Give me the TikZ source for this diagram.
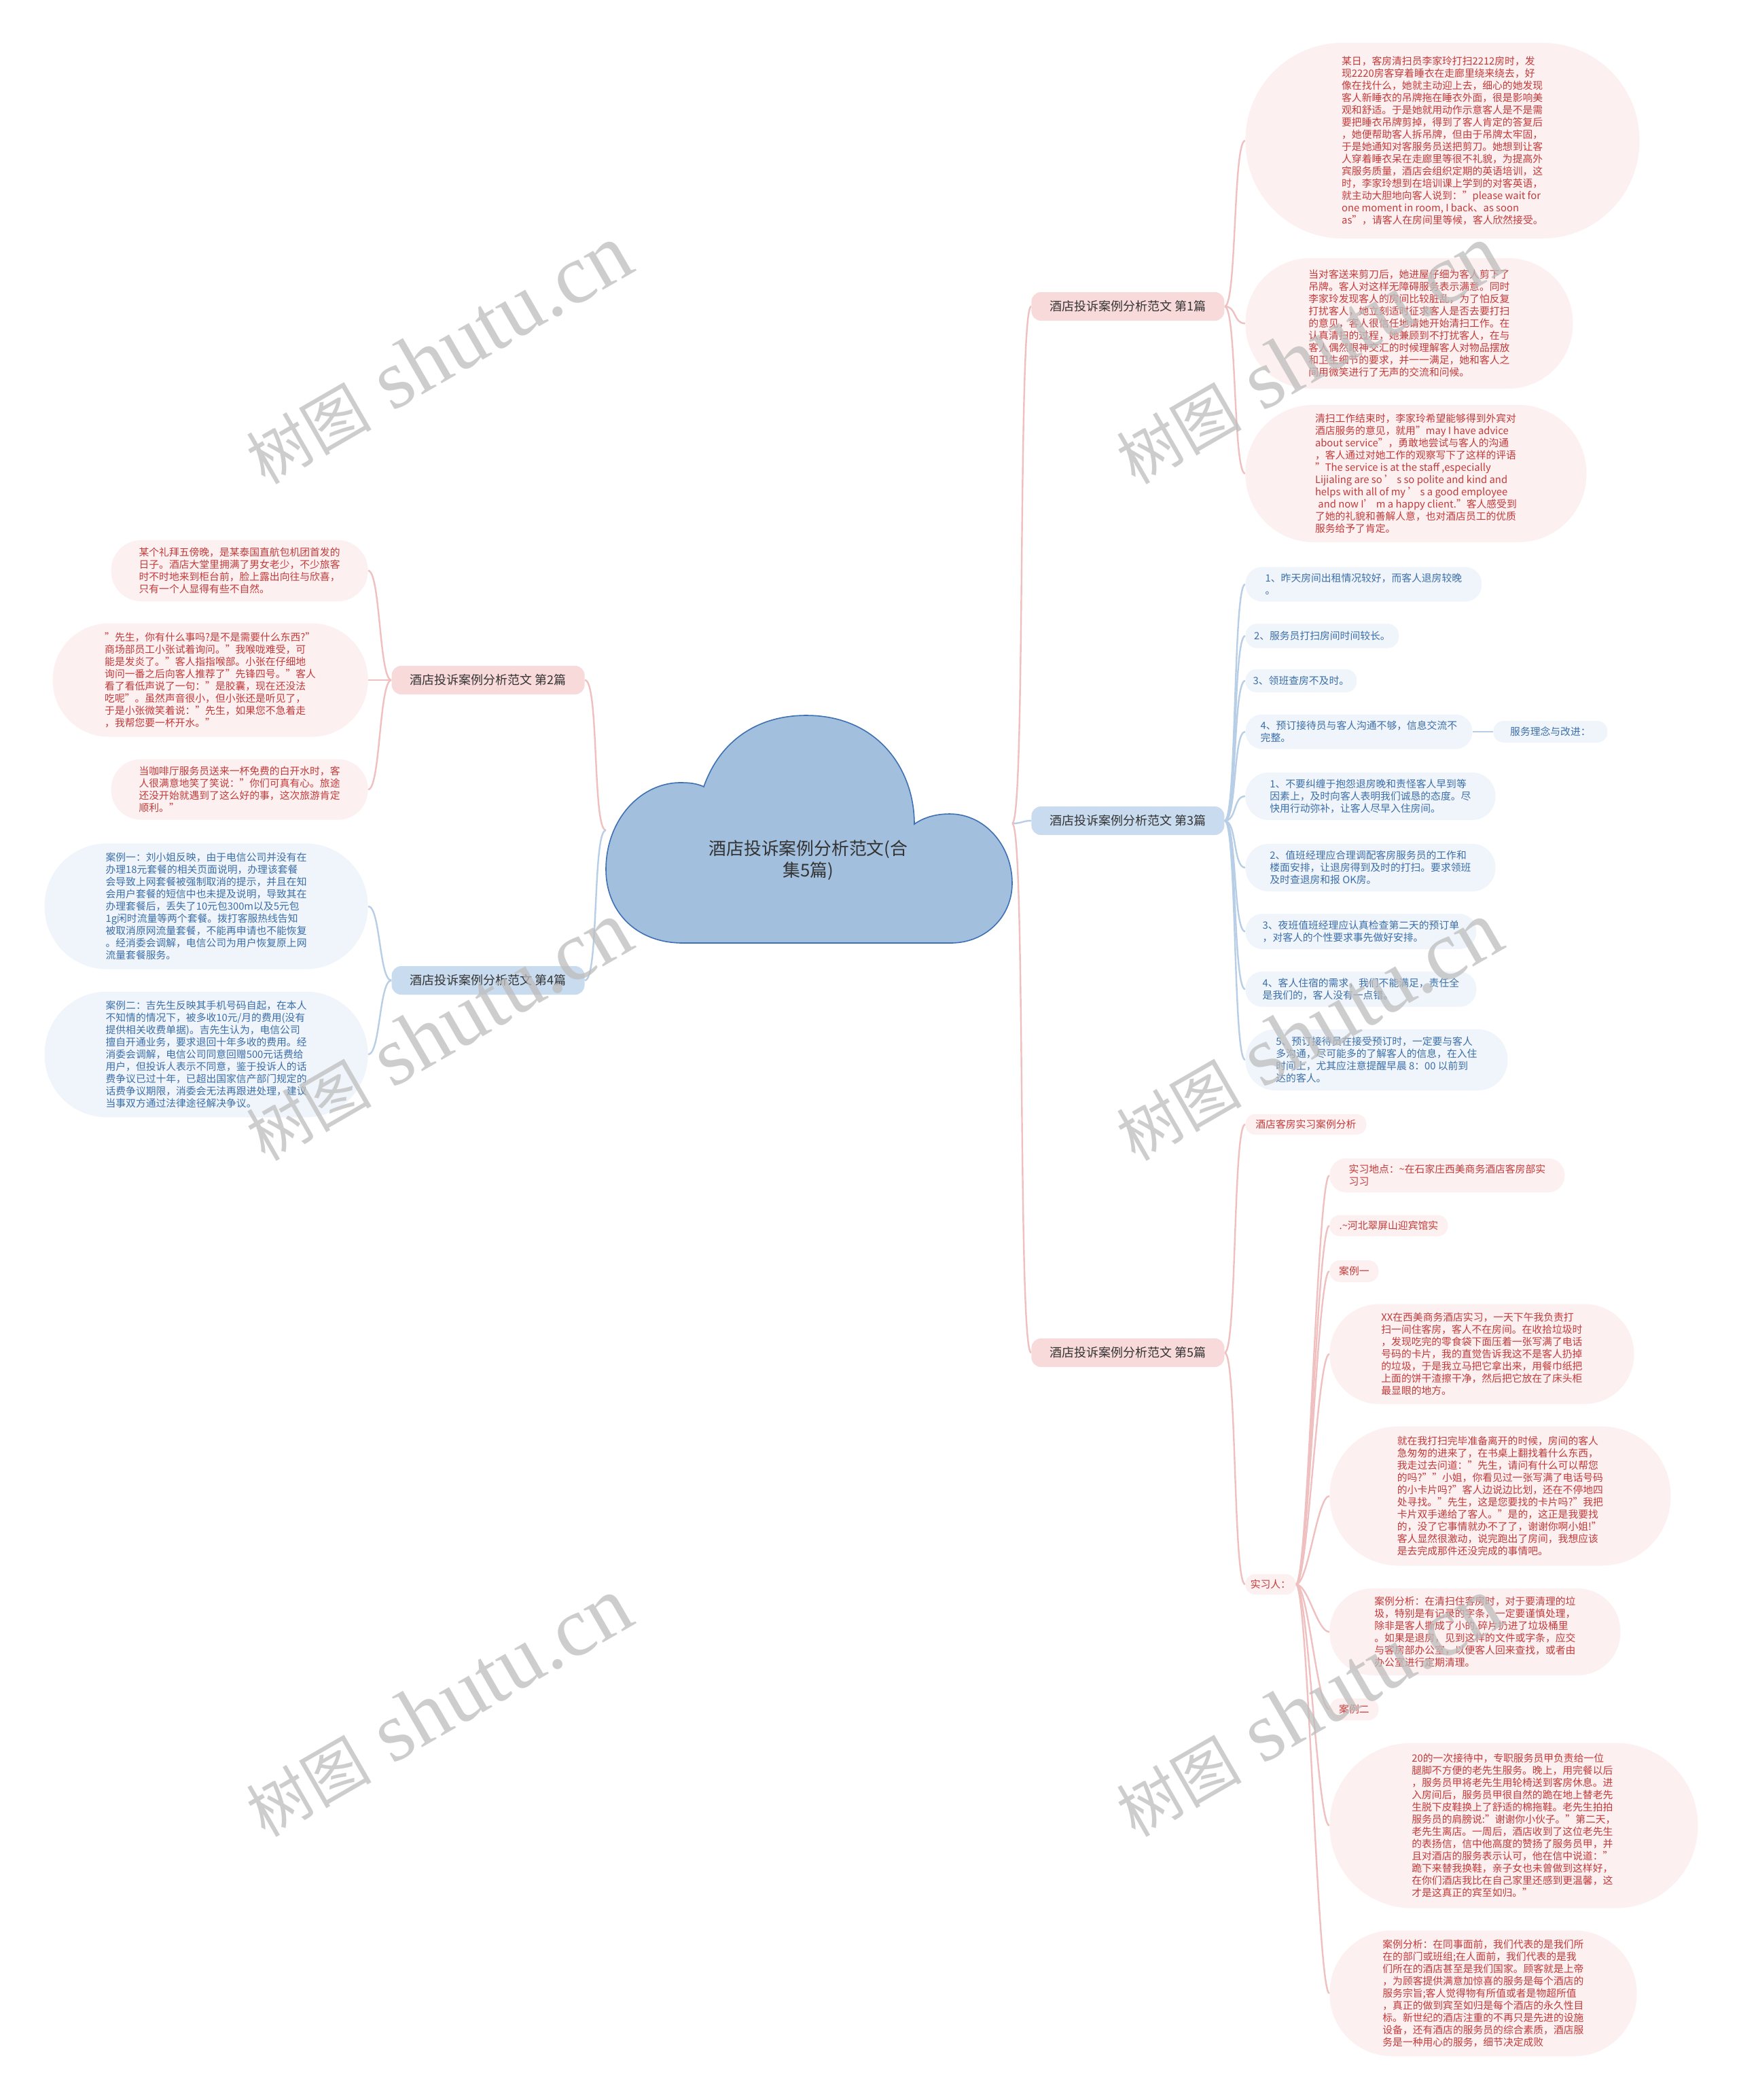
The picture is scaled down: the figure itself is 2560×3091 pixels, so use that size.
\documentclass[tikz,border=0pt]{standalone}
\usepackage{fontspec}
\setmainfont{Noto Sans CJK SC}
\newfontfamily\wmserif{Liberation Serif}
\usetikzlibrary{backgrounds}
\definecolor{pinkfill}{HTML}{FDF0F0}
\definecolor{pinktext}{HTML}{C23A3A}
\definecolor{bluefill}{HTML}{F0F5FB}
\definecolor{bluetext}{HTML}{3B6EA8}
\definecolor{pinkbr}{HTML}{F9DADA}
\definecolor{bluebr}{HTML}{C9DBEE}
\definecolor{pinkln}{HTML}{F0BFBF}
\definecolor{blueln}{HTML}{B7CEE6}
\definecolor{cloudfill}{HTML}{A2BFDD}
\definecolor{cloudline}{HTML}{3E70B4}
\definecolor{darktxt}{HTML}{333333}
\definecolor{wmgray}{HTML}{BDBDBD}
\newcommand\leaffont{\fontsize{7.4pt}{9pt}\selectfont}
\newcommand\brfont{\fontsize{9pt}{11pt}\selectfont}
\newcommand\ttlfont{\fontsize{12.9pt}{16pt}\selectfont}
\tikzset{
  leaf/.style={rectangle, align=left, font=\leaffont, inner sep=0pt},
  pill/.style 2 args={minimum width=#1pt, minimum height=#2pt, rounded corners=0.5*#2pt-0.4pt},
  pinkleaf/.style={leaf, fill=pinkfill, text=pinktext},
  blueleaf/.style={leaf, fill=bluefill, text=bluetext},
  branch/.style={rounded corners=7pt, font=\brfont, text=darktxt, minimum height=21pt, minimum width=142pt, inner sep=0pt},
  pinkbranch/.style={branch, fill=pinkbr},
  bluebranch/.style={branch, fill=bluebr},
  pinkconn/.style={draw=pinkln, line width=1.2pt},
  blueconn/.style={draw=blueln, line width=1.2pt},
  rcurve/.style={out=0,in=180,out distance=9pt,in distance=9pt},
  lcurve/.style={out=180,in=0,out distance=9pt,in distance=9pt},
  wmark/.style={rotate=30, text=wmgray, text opacity=0.75, inner sep=0pt},
}
\begin{document}
\begin{tikzpicture}[x=0.5pt,y=-0.5pt]
\path[use as bounding box] (0,0) rectangle (2560,3091);

% cloud
\draw[fill=cloudfill, draw=cloudline, line width=0.8pt]
  (1005,1388) .. controls (935,1388) and (892,1340) .. (892,1280)
  .. controls (892,1205) and (945,1150) .. (1005,1152)
  .. controls (1020,1152) and (1030,1155) .. (1036,1158)
  .. controls (1060,1090) and (1115,1053) .. (1187,1053)
  .. controls (1290,1053) and (1346,1130) .. (1346,1213)
  .. controls (1360,1203) and (1378,1198) .. (1398,1198)
  .. controls (1450,1198) and (1490,1245) .. (1490,1300)
  .. controls (1490,1350) and (1450,1388) .. (1400,1388)
  -- cycle;
\node[font=\ttlfont, align=center, text=darktxt] (title) at (1190,1266) {酒店投诉案例分析范文(合\\集5篇)};
\coordinate (cr) at (1490,1212);
\coordinate (cl) at (892,1222);

% branches
\node[pinkbranch, anchor=west] (b1) at (1518,451) {酒店投诉案例分析范文 第1篇};
\node[bluebranch, anchor=west] (b3) at (1518,1208) {酒店投诉案例分析范文 第3篇};
\node[pinkbranch, anchor=west] (b5) at (1518,1991) {酒店投诉案例分析范文 第5篇};
\node[pinkbranch, anchor=east] (b2) at (861,1001) {酒店投诉案例分析范文 第2篇};
\node[bluebranch, anchor=east] (b4) at (861,1443) {酒店投诉案例分析范文 第4篇};

% branch 1 leaves
\node[pinkleaf, anchor=west, pill={290}{144}] (l1a) at (1833,207) {某日，客房清扫员李家玲打扫2212房时，发\\
现2220房客穿着睡衣在走廊里绕来绕去，好\\
像在找什么，她就主动迎上去，细心的她发现\\
客人新睡衣的吊牌拖在睡衣外面，很是影响美\\
观和舒适。于是她就用动作示意客人是不是需\\
要把睡衣吊牌剪掉，得到了客人肯定的答复后\\
，她便帮助客人拆吊牌，但由于吊牌太牢固，\\
于是她通知对客服务员送把剪刀。她想到让客\\
人穿着睡衣呆在走廊里等很不礼貌，为提高外\\
宾服务质量，酒店会组织定期的英语培训，这\\
时，李家玲想到在培训课上学到的对客英语，\\
就主动大胆地向客人说到："please wait for\\
one moment in room, I back、as soon\\
as"，请客人在房间里等候，客人欣然接受。};
\node[pinkleaf, anchor=west, pill={241}{96}] (l1b) at (1833,476) {当对客送来剪刀后，她进屋仔细为客人剪下了\\
吊牌。客人对这样无障碍服务表示满意。同时\\
李家玲发现客人的房间比较脏乱，为了怕反复\\
打扰客人，她立刻适时征求客人是否去要打扫\\
的意见，客人很信任地请她开始清扫工作。在\\
认真清扫的过程，她兼顾到不打扰客人，在与\\
客人偶然眼神交汇的时候理解客人对物品摆放\\
和卫生细节的要求，并一一满足，她和客人之\\
间用微笑进行了无声的交流和问候。};
\node[pinkleaf, anchor=west, pill={251}{101}] (l1c) at (1833,697) {清扫工作结束时，李家玲希望能够得到外宾对\\
酒店服务的意见，就用"may I have advice\\
about service"，勇敢地尝试与客人的沟通\\
，客人通过对她工作的观察写下了这样的评语\\
"The service is at the staff ,especially\\
Lijialing are so ’ s so polite and kind and\\
helps with all of my ’ s a good employee\\
\hspace{0.3em}and now I’ m a happy client."客人感受到\\
了她的礼貌和善解人意，也对酒店员工的优质\\
服务给予了肯定。};

% branch 3 leaves
\node[blueleaf, anchor=west, pill={174}{25.5}] (l31) at (1833,860) {1、昨天房间出租情况较好，而客人退房较晚\\。};
\node[blueleaf, anchor=west, pill={113}{18}] (l32) at (1833,936) {2、服务员打扫房间时间较长。};
\node[blueleaf, anchor=west, pill={82}{17}] (l33) at (1833,1002) {3、领班查房不及时。};
\node[blueleaf, anchor=west, pill={167}{25.5}] (l34) at (1833,1077) {4、预订接待员与客人沟通不够，信息交流不\\完整。};
\node[blueleaf, anchor=west, pill={84}{16}] (l34a) at (2198,1077) {服务理念与改进：};
\node[blueleaf, anchor=west, pill={184}{35}] (l35) at (1833,1172) {1、不要纠缠于抱怨退房晚和责怪客人早到等\\
因素上，及时向客人表明我们诚恳的态度。尽\\
快用行动弥补，让客人尽早入住房间。};
\node[blueleaf, anchor=west, pill={184}{35}] (l36) at (1833,1277) {2、值班经理应合理调配客房服务员的工作和\\
楼面安排，让退房得到及时的打扫。要求领班\\
及时查退房和报 OK房。};
\node[blueleaf, anchor=west, pill={170}{26}] (l37) at (1833,1371) {3、夜班值班经理应认真检查第二天的预订单\\
，对客人的个性要求事先做好安排。};
\node[blueleaf, anchor=west, pill={170}{26}] (l38) at (1833,1456) {4、客人住宿的需求，我们不能满足，责任全\\
是我们的，客人没有一点错。};
\node[blueleaf, anchor=west, pill={193}{45}] (l39) at (1833,1560) {5、预订接待员在接受预订时，一定要与客人\\
多沟通，尽可能多的了解客人的信息，在入住\\
时间上，尤其应注意提醒早晨 8：00 以前到\\
达的客人。};

% branch 5 leaves
\node[pinkleaf, anchor=west, pill={89}{15}] (l51) at (1833,1655) {酒店客房实习案例分析};
\node[pinkleaf, anchor=west, pill={37}{15}] (sxr) at (1833,2332) {实习人：};
\node[pinkleaf, anchor=west, pill={173}{25}] (c1) at (1957,1730) {实习地点：\textasciitilde 在石家庄西美商务酒店客房部实\\习习};
\node[pinkleaf, anchor=west, pill={87}{15.5}] (c2) at (1957,1804) {.\textasciitilde 河北翠屏山迎宾馆实};
\node[pinkleaf, anchor=west, pill={36}{16}] (c3) at (1957,1871) {案例一};
\node[pinkleaf, anchor=west, pill={224}{73.5}] (c4) at (1957,1993) {XX在西美商务酒店实习，一天下午我负责打\\
扫一间住客房，客人不在房间。在收拾垃圾时\\
，发现吃完的零食袋下面压着一张写满了电话\\
号码的卡片，我的直觉告诉我这不是客人扔掉\\
的垃圾，于是我立马把它拿出来，用餐巾纸把\\
上面的饼干渣擦干净，然后把它放在了床头柜\\
最显眼的地方。};
\node[pinkleaf, anchor=west, pill={251}{102.5}] (c5) at (1957,2202) {就在我打扫完毕准备离开的时候，房间的客人\\
急匆匆的进来了，在书桌上翻找着什么东西，\\
我走过去问道："先生，请问有什么可以帮您\\
的吗?""小姐，你看见过一张写满了电话号码\\
的小卡片吗?"客人边说边比划，还在不停地四\\
处寻找。"先生，这是您要找的卡片吗?"我把\\
卡片双手递给了客人。"是的，这正是我要找\\
的，没了它事情就办不了了，谢谢你啊小姐!"\\
客人显然很激动，说完跑出了房间，我想应该\\
是去完成那件还没完成的事情吧。};
\node[pinkleaf, anchor=west, pill={214}{64}] (c6) at (1957,2402) {案例分析：在清扫住客房时，对于要清理的垃\\
圾，特别是有记录的字条，一定要谨慎处理，\\
除非是客人撕成了小的.碎片扔进了垃圾桶里\\
。如果是退房，见到这样的文件或字条，应交\\
与客房部办公室，以便客人回来查找，或者由\\
办公室进行定期清理。};
\node[pinkleaf, anchor=west, pill={36}{16}] (c7) at (1957,2516) {案例二};
\node[pinkleaf, anchor=west, pill={271}{121.5}] (c8) at (1957,2687) {20的一次接待中，专职服务员甲负责给一位\\
腿脚不方便的老先生服务。晚上，用完餐以后\\
，服务员甲将老先生用轮椅送到客房休息。进\\
入房间后，服务员甲很自然的跪在地上替老先\\
生脱下皮鞋换上了舒适的棉拖鞋。老先生拍拍\\
服务员的肩膀说:"谢谢你小伙子。"第二天，\\
老先生离店。一周后，酒店收到了这位老先生\\
的表扬信，信中他高度的赞扬了服务员甲，并\\
且对酒店的服务表示认可，他在信中说道："\\
跪下来替我换鞋，亲子女也未曾做到这样好，\\
在你们酒店我比在自己家里还感到更温馨，这\\
才是这真正的宾至如归。"};
\node[pinkleaf, anchor=west, pill={226}{92.5}] (c9) at (1957,2934) {案例分析：在同事面前，我们代表的是我们所\\
在的部门或班组;在人面前，我们代表的是我\\
们所在的酒店甚至是我们国家。顾客就是上帝\\
，为顾客提供满意加惊喜的服务是每个酒店的\\
服务宗旨;客人觉得物有所值或者是物超所值\\
，真正的做到宾至如归是每个酒店的永久性目\\
标。新世纪的酒店注重的不再只是先进的设施\\
设备，还有酒店的服务员的综合素质，酒店服\\
务是一种用心的服务，细节决定成败};

% branch 2 leaves
\node[pinkleaf, anchor=east, pill={189}{45}] (l21) at (542,840) {某个礼拜五傍晚，是某泰国直航包机团首发的\\
日子。酒店大堂里拥满了男女老少，不少旅客\\
时不时地来到柜台前，脸上露出向往与欣喜，\\
只有一个人显得有些不自然。};
\node[pinkleaf, anchor=east, pill={232}{83.5}] (l22) at (542,1001) {"先生，你有什么事吗?是不是需要什么东西?"\\
商场部员工小张试着询问。"我喉咙难受，可\\
能是发炎了。"客人指指喉部。小张在仔细地\\
询问一番之后向客人推荐了"先锋四号。"客人\\
看了看低声说了一句："是胶囊，现在还没法\\
吃呢"。虽然声音很小，但小张还是听见了，\\
于是小张微笑着说："先生，如果您不急着走\\
，我帮您要一杯开水。"};
\node[pinkleaf, anchor=east, pill={189}{44.5}] (l23) at (542,1162) {当咖啡厅服务员送来一杯免费的白开水时，客\\
人很满意地笑了笑说："你们可真有心。旅途\\
还没开始就遇到了这么好的事，这次旅游肯定\\
顺利。"};

% branch 4 leaves
\node[blueleaf, anchor=east, pill={238}{92.5}] (l41) at (542,1334) {案例一：刘小姐反映，由于电信公司并没有在\\
办理18元套餐的相关页面说明，办理该套餐\\
会导致上网套餐被强制取消的提示，并且在知\\
会用户套餐的短信中也未提及说明，导致其在\\
办理套餐后，丢失了10元包300m以及5元包\\
1g闲时流量等两个套餐。拨打客服热线告知\\
被取消原网流量套餐，不能再申请也不能恢复\\
。经消委会调解，电信公司为用户恢复原上网\\
流量套餐服务。};
\node[blueleaf, anchor=east, pill={238}{92.5}] (l42) at (542,1552) {案例二：吉先生反映其手机号码自起，在本人\\
不知情的情况下，被多收10元/月的费用(没有\\
提供相关收费单据)。吉先生认为，电信公司\\
擅自开通业务，要求退回十年多收的费用。经\\
消委会调解，电信公司同意回赠500元话费给\\
用户，但投诉人表示不同意，鉴于投诉人的话\\
费争议已过十年，已超出国家信产部门规定的\\
话费争议期限，消委会无法再跟进处理，建议\\
当事双方通过法律途径解决争议。};

% connectors
\begin{pgfonlayer}{background}
\fill[white] (0,0) rectangle (2560,3091);
\draw[pinkconn] (cr) .. controls (1510,1212) and (1498,451) .. (b1.west);
\draw[blueconn] (cr) .. controls (1505,1212) and (1505,1208) .. (b3.west);
\draw[pinkconn] (cr) .. controls (1510,1212) and (1498,1991) .. (b5.west);
\draw[pinkconn] (cl) .. controls (872,1222) and (882,1001) .. (b2.east);
\draw[blueconn] (cl) .. controls (872,1222) and (882,1443) .. (b4.east);
\foreach \n in {l1a,l1b,l1c} \draw[pinkconn] (b1.east) to[rcurve] (\n.west);
\foreach \n in {l31,l32,l33,l34,l35,l36,l37,l38,l39} \draw[blueconn] (b3.east) to[rcurve] (\n.west);
\draw[blueconn] (l34.east) -- (l34a.west);
\foreach \n in {l51,sxr} \draw[pinkconn] (b5.east) to[rcurve] (\n.west);
\foreach \n in {c1,c2,c3,c4,c5,c6,c7,c8,c9} \draw[pinkconn] (sxr.east) to[rcurve] (\n.west);
\foreach \n in {l21,l22,l23} \draw[pinkconn] (b2.west) to[lcurve] (\n.east);
\foreach \n in {l41,l42} \draw[blueconn] (b4.west) to[lcurve] (\n.east);
\end{pgfonlayer}

% watermarks
\foreach \i/\x/\y in {1/645/522, 2/1926/522, 3/645/1518, 4/1926/1518, 5/645/2513, 6/1926/2513}
  \node[wmark] (wm\i) at (\x,\y) {{\fontsize{46pt}{46pt}\selectfont 树图\hspace{0.35em}}{\wmserif\fontsize{62pt}{62pt}\selectfont shutu.cn}};
\end{tikzpicture}
\end{document}
